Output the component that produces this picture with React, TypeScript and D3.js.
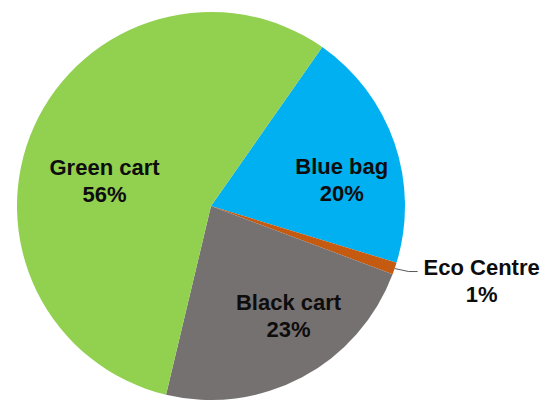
import React from "react";
import * as d3 from "d3";

const categories = ["Blue bag", "Eco Centre", "Black cart", "Green cart"];
const values = [20, 1, 23, 56];
const colors = ["#00B0F0", "#C55A11", "#767171", "#92D050"];

const W = 556;
const H = 402;
const CX = 211;
const CY = 206;
const R = 194;
const START_DEG = 35;

// label nudges relative to slice centroid (inside labels)
const nudges: [number, number][] = [
  [39, 5],
  [0, 0],
  [32, 24],
  [-18, 14],
];

export default function App() {
  const total = d3.sum(values);
  const pie = d3
    .pie<number>()
    .sort(null)
    .value((d) => d)
    .startAngle((START_DEG * Math.PI) / 180)
    .endAngle((START_DEG * Math.PI) / 180 + 2 * Math.PI);
  const arcs = pie(values);
  const arc = d3.arc<d3.PieArcDatum<number>>().innerRadius(0).outerRadius(R);
  const edge = d3.arc<d3.PieArcDatum<number>>().innerRadius(R).outerRadius(R);

  const fontStyle = {
    fontFamily: "'Liberation Sans', Arial, sans-serif",
    fontWeight: 700,
    fontSize: 22,
    fill: "#0d0d0d",
  } as React.CSSProperties;

  return (
    <svg
      width={W}
      height={H}
      style={{ position: "absolute", left: 0, top: 0, background: "#fff" }}
    >
      <g transform={`translate(${CX},${CY})`}>
        {arcs.map((a, i) => (
          <path key={i} d={arc(a) || ""} fill={colors[i]} />
        ))}
        {arcs.map((a, i) => {
          const pct = `${Math.round((values[i] / total) * 100)}%`;
          if (values[i] / total < 0.05) {
            const [ex, ey] = edge.centroid(a);
            const elbowX = ex + 14;
            const elbowY = ey + 3;
            const endX = elbowX + 9;
            const tx = endX + 64;
            return (
              <g key={"l" + i}>
                <polyline
                  points={`${ex},${ey} ${elbowX},${elbowY} ${endX},${elbowY}`}
                  fill="none"
                  stroke="#595959"
                  strokeWidth={1}
                />
                <text x={tx} y={elbowY + 3} textAnchor="middle" style={fontStyle}>
                  {categories[i]}
                </text>
                <text x={tx} y={elbowY + 30} textAnchor="middle" style={fontStyle}>
                  {pct}
                </text>
              </g>
            );
          }
          const [x, y] = arc.centroid(a);
          const lx = x + nudges[i][0];
          const ly = y + nudges[i][1];
          return (
            <g key={"l" + i}>
              <text x={lx} y={ly - 5.5} textAnchor="middle" style={fontStyle}>
                {categories[i]}
              </text>
              <text x={lx} y={ly + 21.5} textAnchor="middle" style={fontStyle}>
                {pct}
              </text>
            </g>
          );
        })}
      </g>
    </svg>
  );
}
